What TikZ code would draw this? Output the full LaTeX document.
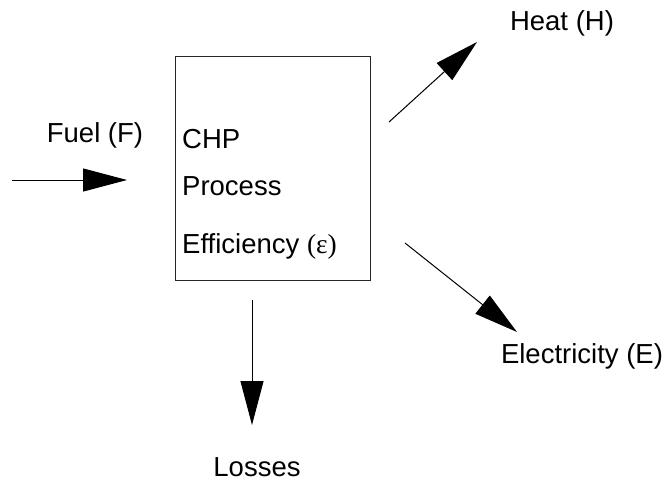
\documentclass[tikz,border=0pt]{standalone}
\usepackage{fontspec}
\setmainfont{Liberation Sans}
\newfontfamily\serifeps{Liberation Serif}
\usetikzlibrary{arrows.meta}
\begin{document}
\begin{tikzpicture}[x=1pt,y=-1pt,
  lbl/.style={font=\fontsize{27.5}{30}\selectfont, inner sep=0pt, anchor=base},
  inlbl/.style={font=\fontsize{27.5}{30}\selectfont, inner sep=0pt, anchor=base west},
  flow/.style={line width=1pt, -{Triangle[length=44pt,width=23pt]}},
  boxstyle/.style={draw=black!85, line width=1pt, minimum width=195pt, minimum height=224pt, inner sep=0pt}]
\useasboundingbox (0,0) rectangle (667,483);
\node[boxstyle] (chp) at (272.5,168) {};
\node[inlbl] (t1) at (182,148) {CHP};
\node[inlbl] (t2) at (182,195) {Process};
\node[inlbl] (t3) at (182,253) {Efficiency {\serifeps(ε)}};
\node[lbl] (fuel) at (95,142) {Fuel (F)};
\node[lbl] (heat) at (562,30) {Heat (H)};
\node[lbl] (elec) at (582,363) {Electricity (E)};
\node[lbl] (loss) at (257,476) {Losses};
\coordinate (fs) at (12,180);
\coordinate (fe) at (127,180);
\coordinate (hs) at (389,122);
\coordinate (he) at (477,42);
\coordinate (es) at (405,243);
\coordinate (ee) at (517,332);
\coordinate (ls) at (252,300);
\coordinate (le) at (252,425);
\draw[flow] (fs) -- (fe);
\draw[flow] (hs) -- (he);
\draw[flow] (es) -- (ee);
\draw[flow] (ls) -- (le);
\end{tikzpicture}
\end{document}
